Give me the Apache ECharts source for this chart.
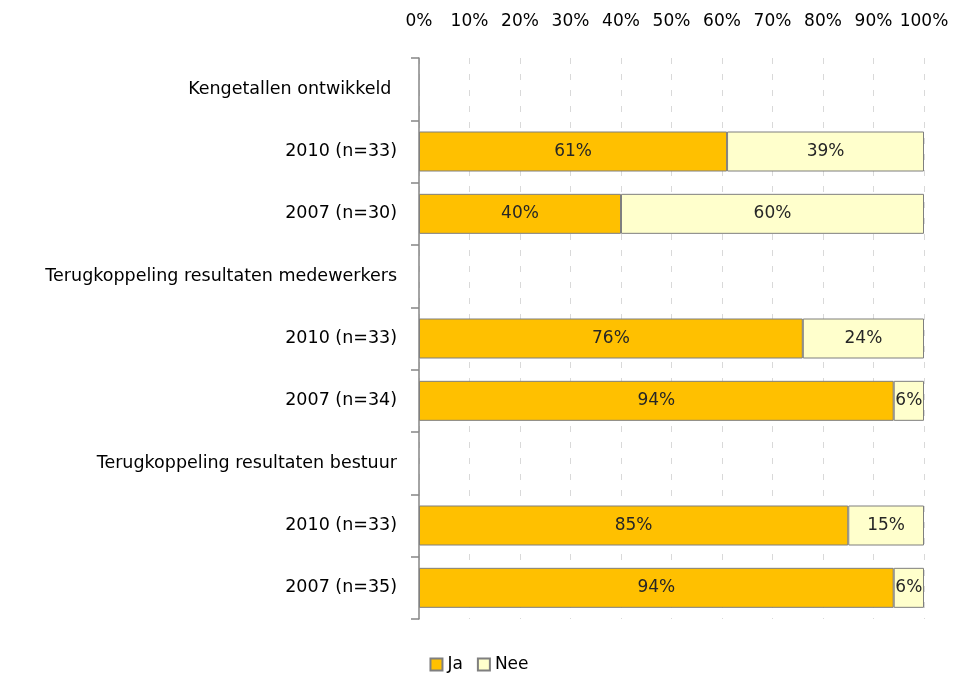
<!DOCTYPE html>
<html><head><meta charset="utf-8">
<script src="https://cdn.jsdelivr.net/npm/echarts@6/dist/echarts.min.js"></script>
<style>html,body{margin:0;padding:0;background:#fff}#c{width:958px;height:676px}</style>
</head><body><div id="c"></div>
<script>
const categories = ["Kengetallen ontwikkeld ", "2010 (n=33)", "2007 (n=30)", "Terugkoppeling resultaten medewerkers", "2010 (n=33)", "2007 (n=34)", "Terugkoppeling resultaten bestuur", "2010 (n=33)", "2007 (n=35)"];
const ja = [null, 61, 40, null, 76, 94, null, 85, 94];
const nee = [null, 39, 60, null, 24, 6, null, 15, 6];
const xTicks = [0, 10, 20, 30, 40, 50, 60, 70, 80, 90, 100];

const font = "'DejaVu Sans', sans-serif";
const fs = 17.5;
const chart = echarts.init(document.getElementById('c'));
const lbl = {show: true, position: 'inside', formatter: p => p.value + '%', color: '#262626', fontSize: 17, fontFamily: font};
chart.setOption({
  animation: false,
  textStyle: {fontFamily: font},
  grid: {left: 419, right: 34, top: 58, bottom: 57, containLabel: false},
  legend: {bottom: -2, left: 'center', itemWidth: 12, itemHeight: 12, itemGap: 14,
    textStyle: {fontSize: 17, color: '#000', fontFamily: font}, icon: 'rect',
    data: ['Ja', 'Nee']},
  xAxis: {type: 'value', position: 'top', min: 0, max: 100, interval: 10,
    axisLine: {show: false}, axisTick: {show: false},
    axisLabel: {formatter: v => xTicks.includes(v) ? v + '%' : '', fontSize: 17, color: '#000', margin: 28, fontFamily: font},
    splitLine: {show: true, lineStyle: {type: [6, 10], color: '#d9d9d9', width: 1}}},
  yAxis: {type: 'category', inverse: true, data: categories,
    axisLine: {show: true, lineStyle: {color: '#868686', width: 1.5}},
    axisTick: {show: true, length: 8, lineStyle: {color: '#868686', width: 1.5}},
    axisLabel: {fontSize: fs, color: '#000', margin: 22, fontFamily: font}},
  series: [
    {name: 'Ja', type: 'bar', stack: 's', data: ja, barWidth: 40,
      itemStyle: {color: '#FFC000', borderColor: '#7f7f7f', borderWidth: 1}, label: lbl},
    {name: 'Nee', type: 'bar', stack: 's', data: nee, barWidth: 40,
      itemStyle: {color: '#FFFFCC', borderColor: '#7f7f7f', borderWidth: 1}, label: lbl}
  ]
});
</script></body></html>
